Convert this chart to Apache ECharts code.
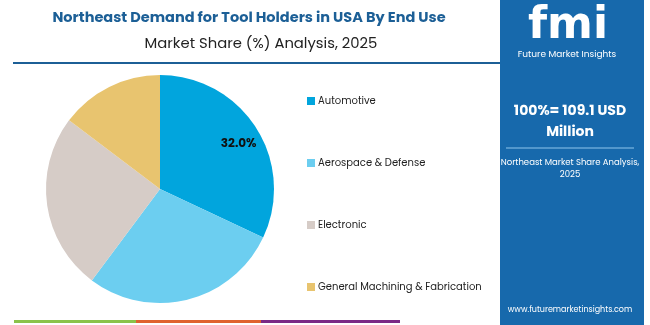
<!DOCTYPE html>
<html><head><meta charset="utf-8">
<script src="https://cdn.jsdelivr.net/npm/echarts@6/dist/echarts.min.js"></script>
<style>html,body{margin:0;padding:0;background:#fff}#c{width:650px;height:325px}</style>
</head><body><div id="c"></div>
<script>
const categories = ['Automotive', 'Aerospace & Defense', 'Electronic', 'General Machining & Fabrication'];
const shares = [32.0, 28.2, 25.1, 14.7];
const colors = ['#01a5dd', '#6ccef0', '#d6ccc7', '#e8c46f'];
const titleText = 'Northeast Demand for Tool Holders in USA By End Use';
const subtitleText = 'Market Share (%) Analysis, 2025';
const totalLine1 = '100%= 109.1 USD';
const totalLine2 = 'Million';
const panelNote1 = 'Northeast Market Share Analysis,';
const panelNote2 = '2025';
const website = 'www.futuremarketinsights.com';

const chart = echarts.init(document.getElementById('c'));
const font = 'Poppins, "Open Sans", Lato, sans-serif';
chart.setOption({
  animation: false,
  title: [
    {text: titleText, left: 244, textAlign: 'center', top: 6,
     textStyle: {fontFamily: font, fontSize: 14.5, fontWeight: 'bold', color: '#1c5f96'}},
    {text: subtitleText, left: 256, textAlign: 'center', top: 32,
     textStyle: {fontFamily: font, fontSize: 14.8, fontWeight: 'normal', color: '#222'}}
  ],
  legend: {
    orient: 'vertical', left: 302, top: 91, itemGap: 52, itemWidth: 8, itemHeight: 8,
    icon: 'rect', data: categories,
    textStyle: {fontFamily: font, fontSize: 10, color: '#222', padding: [0,0,0,-2]}
  },
  series: [{
    type: 'pie', center: [160, 189], radius: 114, startAngle: 90, clockwise: true,
    data: categories.map((c, i) => ({name: c, value: shares[i], itemStyle: {color: colors[i]},
      label: i === 0 ? {show: true} : {show: false}})),
    label: {position: 'inside', formatter: p => p.value.toFixed(1) + '%',
      fontFamily: font, fontSize: 12, fontWeight: 'bold', color: '#111',
      offset: [28, -13]},
    labelLine: {show: false}, emphasis: {disabled: true}
  }],
  graphic: [
    {type: 'line', shape: {x1: 13, y1: 63, x2: 500, y2: 63}, style: {stroke: '#1c5f96', lineWidth: 2}},
    {type: 'rect', shape: {x: 500, y: 0, width: 144, height: 325}, style: {fill: '#1769ac'}},
    {type: 'text', style: {x: 568, y: 5, text: 'fmi', textAlign: 'center', font: 'bold 44px "DejaVu Sans"', fill: '#fff'}},
    {type: 'text', style: {x: 567, y: 50, text: 'Future Market Insights', textAlign: 'center', font: '9px ' + font, fill: '#fff'}},
    {type: 'text', style: {x: 570, y: 104, text: totalLine1, textAlign: 'center', font: 'bold 14px ' + font, fill: '#fff'}},
    {type: 'text', style: {x: 570, y: 125, text: totalLine2, textAlign: 'center', font: 'bold 14px ' + font, fill: '#fff'}},
    {type: 'line', shape: {x1: 506, y1: 148, x2: 634, y2: 148}, style: {stroke: '#8fc6ec', lineWidth: 1}},
    {type: 'text', style: {x: 570, y: 158, text: panelNote1, textAlign: 'center', font: '8.5px ' + font, fill: '#fff'}},
    {type: 'text', style: {x: 570, y: 170, text: panelNote2, textAlign: 'center', font: '8.5px ' + font, fill: '#fff'}},
    {type: 'text', style: {x: 570, y: 306, text: website, textAlign: 'center', font: '8px ' + font, fill: '#fff'}},
    {type: 'rect', shape: {x: 14, y: 320, width: 122, height: 3}, style: {fill: '#8bc34a'}},
    {type: 'rect', shape: {x: 136, y: 320, width: 125, height: 3}, style: {fill: '#e0622e'}},
    {type: 'rect', shape: {x: 261, y: 320, width: 139, height: 3}, style: {fill: '#7b2a86'}}
  ]
});
</script></body></html>
